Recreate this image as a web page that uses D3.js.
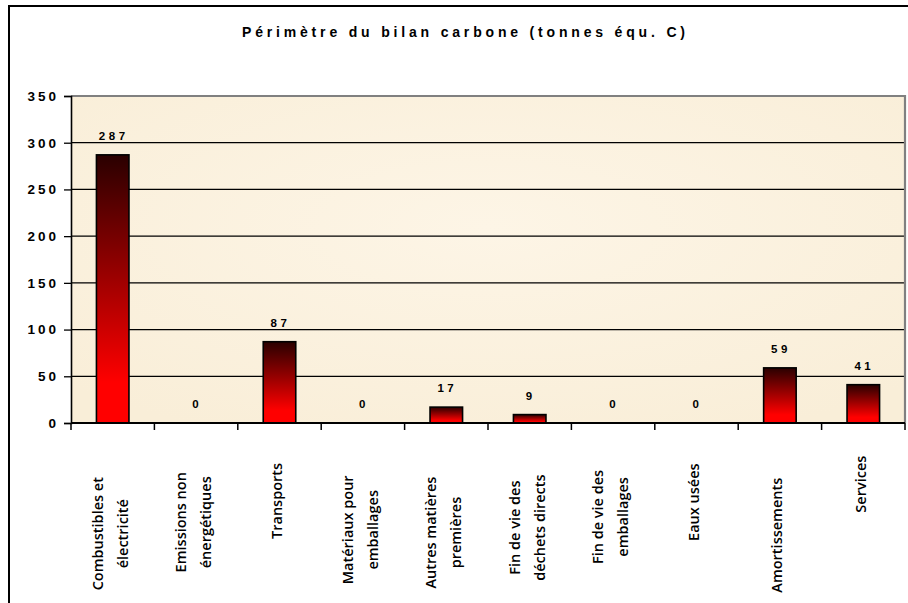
<!DOCTYPE html>
<html><head><meta charset="utf-8">
<script src="https://cdn.jsdelivr.net/npm/d3@7"></script>
<style>body{margin:0;background:#fff;}svg{display:block;}</style>
</head><body>
<svg id="chart" width="908" height="603"></svg>
<script>
const title = "Périmètre du bilan carbone (tonnes équ. C)";
const categories = [
  ["Combustibles et", "électricité"],
  ["Emissions non", "énergétiques"],
  ["Transports"],
  ["Matériaux pour", "emballages"],
  ["Autres matières", "premières"],
  ["Fin de vie des", "déchets directs"],
  ["Fin de vie des", "emballages"],
  ["Eaux usées"],
  ["Amortissements"],
  ["Services"]
];
const values = [287, 0, 87, 0, 17, 9, 0, 0, 59, 41];
const yTicks = [0, 50, 100, 150, 200, 250, 300, 350];

const svg = d3.select("#chart");
const plot = {left: 71, right: 905, top: 96, bottom: 423};

// outer border
svg.append("rect").attr("x", 9).attr("y", 6).attr("width", 920).attr("height", 620)
  .attr("fill", "#fff").attr("stroke", "#000").attr("stroke-width", 2);

// title
svg.append("text").attr("x", 242).attr("y", 37)
  .attr("textLength", 443).attr("lengthAdjust", "spacing")
  .attr("font-family", "Liberation Sans, Arial, sans-serif").attr("font-weight", "bold")
  .attr("font-size", 14).attr("fill", "#000").text(title);

const x = d3.scaleBand().domain(d3.range(categories.length))
  .range([plot.left, plot.right]).padding(0);
const y = d3.scaleLinear().domain([0, 350]).range([plot.bottom, plot.top]);

const defs = svg.append("defs");
const grad = defs.append("linearGradient").attr("id", "barGrad")
  .attr("x1", 0).attr("y1", 0).attr("x2", 0).attr("y2", 1);
grad.append("stop").attr("offset", "0%").attr("stop-color", "#2a0000");
grad.append("stop").attr("offset", "45%").attr("stop-color", "#9a0000");
grad.append("stop").attr("offset", "85%").attr("stop-color", "#ff0000");
grad.append("stop").attr("offset", "100%").attr("stop-color", "#ff0000");

const bg = defs.append("radialGradient").attr("id", "bgGrad").attr("cx", "50%").attr("cy", "40%").attr("r", "70%");
bg.append("stop").attr("offset", "0%").attr("stop-color", "#fdf5e6");
bg.append("stop").attr("offset", "100%").attr("stop-color", "#f9eed8");

// plot background
svg.append("rect").attr("x", plot.left).attr("y", plot.top)
  .attr("width", plot.right - plot.left).attr("height", plot.bottom - plot.top)
  .attr("fill", "url(#bgGrad)");

// gridlines
svg.append("g").selectAll("line").data(yTicks.filter(t => t > 0 && t < 350)).join("line")
  .attr("x1", plot.left).attr("x2", plot.right)
  .attr("y1", d => y(d)).attr("y2", d => y(d))
  .attr("stroke", "#000").attr("stroke-width", 1.3);

// top & right border of plot (gray)
svg.append("path")
  .attr("d", `M${plot.left},${y(350)}H${plot.right}V${plot.bottom}`)
  .attr("fill", "none").attr("stroke", "#808080").attr("stroke-width", 2.2);

// bars
const bw = x.bandwidth() * 0.39;
svg.append("g").selectAll("rect").data(values).join("rect")
  .attr("x", (d, i) => x(i) + x.bandwidth() / 2 - bw / 2)
  .attr("y", d => y(d))
  .attr("width", bw)
  .attr("height", d => y(0) - y(d))
  .attr("fill", "url(#barGrad)")
  .attr("stroke", d => d > 0 ? "#000" : "none").attr("stroke-width", 1.6);

// value labels
svg.append("g").selectAll("text").data(values).join("text")
  .attr("x", (d, i) => x(i) + x.bandwidth() / 2 + 1)
  .attr("y", d => y(d) - 15)
  .attr("text-anchor", "middle")
  .attr("font-family", "Liberation Sans, Arial, sans-serif").attr("font-weight", "bold")
  .attr("font-size", 11.5).attr("letter-spacing", 3.5).attr("fill", "#000")
  .text(d => d);

// y axis
const yAxis = d3.axisLeft(y).tickValues(yTicks).tickSize(7).tickPadding(8);
const gy = svg.append("g").attr("transform", `translate(${plot.left},0)`).call(yAxis);
gy.select(".domain").attr("stroke", "#000").attr("stroke-width", 1.6);
gy.selectAll(".tick line").attr("stroke", "#000").attr("stroke-width", 1.3);
gy.selectAll(".tick text")
  .attr("font-family", "Liberation Sans, Arial, sans-serif").attr("font-weight", "bold")
  .attr("font-size", 13.5).attr("letter-spacing", 3).attr("fill", "#000")
  .attr("dx", 3);

// x axis
const gx = svg.append("g").attr("transform", `translate(0,${plot.bottom})`);
gx.append("line").attr("x1", plot.left).attr("x2", plot.right)
  .attr("stroke", "#000").attr("stroke-width", 2);
const bounds = d3.range(categories.length + 1).map(i => i < categories.length ? x(i) : plot.right);
gx.selectAll("line.tk").data(bounds).join("line").attr("class", "tk")
  .attr("x1", d => d).attr("x2", d => d).attr("y1", 0).attr("y2", 7)
  .attr("stroke", "#000").attr("stroke-width", 1.5);

// x labels (rotated)
categories.forEach((lines, i) => {
  const cx = x(i) + x.bandwidth() / 2 - 3;
  const g = svg.append("g");
  const t = g.append("text")
    .attr("font-family", "Open Sans, sans-serif").attr("font-size", 14.5)
    .attr("font-weight", 600)
    .attr("fill", "#000").attr("text-anchor", "middle");
  lines.forEach((ln, j) => {
    t.append("tspan").attr("x", 0)
      .attr("y", (j - (lines.length - 1) / 2) * 25)
      .attr("dominant-baseline", "central")
      .text(ln);
  });
  let maxLen = 0;
  t.selectAll("tspan").each(function() { maxLen = Math.max(maxLen, this.getComputedTextLength()); });
  const cy = plot.bottom + 11 + 0.88 * maxLen;
  g.attr("transform", `translate(${cx},${cy}) rotate(-90)`);
});
</script>
</body></html>
